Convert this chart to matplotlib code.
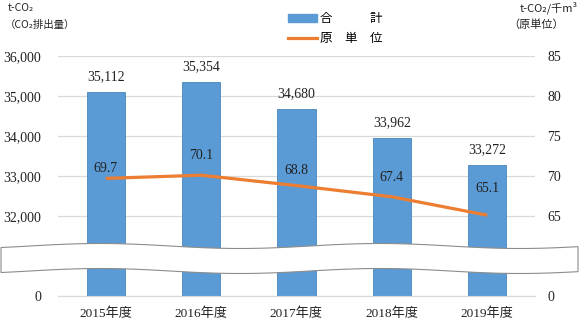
import numpy as np
import matplotlib
matplotlib.use("Agg")
from matplotlib import pyplot as plt
from matplotlib.patches import Polygon, Patch
from matplotlib.lines import Line2D

years = ["2015年度", "2016年度", "2017年度", "2018年度", "2019年度"]
emissions = [35112, 35354, 34680, 33962, 33272]      # t-CO2
intensity = [69.7, 70.1, 68.8, 67.4, 65.1]           # t-CO2/千m3

left_ticks = [0, 32000, 33000, 34000, 35000, 36000]
right_ticks = [0, 65, 70, 75, 80, 85]

BLUE = "#5B9BD5"
ORANGE = "#ED7D31"
GRID = "#d9d9d9"

SERIF = ["Liberation Serif", "Noto Sans CJK JP"]
CJK = ["Noto Sans CJK JP", "DejaVu Sans"]

W, H = 580, 322


def broken_scale(lo_break, top):
    # 0..lo_break squeezed into 2 units, lo_break..top spread over 4 units
    xp = [0, lo_break, top]
    fp = [0, 2, 6]
    fwd = lambda v: np.interp(v, xp, fp)
    inv = lambda p: np.interp(p, fp, xp)
    return fwd, inv


fig = plt.figure(figsize=(W / 100, H / 100), dpi=100)
ax = fig.add_axes([58 / W, 1 - 296 / H, (535 - 58) / W, 240 / H])
ax2 = ax.twinx()

ax.set_yscale("function", functions=broken_scale(32000, 36000))
ax2.set_yscale("function", functions=broken_scale(65, 85))
ax.set_ylim(0, 36000)
ax2.set_ylim(0, 85)

x = np.arange(len(years))
ax.bar(x, emissions, width=0.4, color=BLUE, edgecolor="#4a86bf", linewidth=0.6, zorder=3)
ax.set_xlim(-0.5, len(years) - 0.5)

for xi, v in zip(x, emissions):
    ax.annotate(f"{v:,}", (xi, v), xytext=(0, 11), textcoords="offset points",
                ha="center", va="center", fontsize=10, family=SERIF, color="#222222")

ax2.plot(x, intensity, color=ORANGE, linewidth=2.3, solid_capstyle="butt", zorder=4)
label_off = [7, 14, 11, 14, 19]
for xi, v, off in zip(x, intensity, label_off):
    ax2.annotate(f"{v}", (xi, v), xytext=(0, off), textcoords="offset points",
                 ha="center", va="center", fontsize=10, family=SERIF, color="#222222")

ax.set_yticks(left_ticks)
ax.set_yticklabels([f"{t:,}" for t in left_ticks], family=SERIF, fontsize=10)
ax2.set_yticks(right_ticks)
ax2.set_yticklabels([str(t) for t in right_ticks], family=SERIF, fontsize=10)
ax.set_xticks(x)
ax.set_xticklabels(years, family=SERIF, fontsize=9.5)

ax.grid(axis="y", color=GRID, linewidth=0.9, zorder=0)
ax.set_axisbelow(True)
ax.tick_params(axis="y", length=0, pad=12, colors="#222222")
ax.tick_params(axis="x", length=0, pad=8, colors="#222222")
ax2.tick_params(axis="y", length=0, pad=9, colors="#222222")
for a in (ax, ax2):
    for s in ("left", "right", "top"):
        a.spines[s].set_visible(False)
    a.spines["bottom"].set_color(GRID)

# wavy break band across the whole figure
xs = np.linspace(1, 578, 120)
upper = 246 - 2.5 * np.cos(2 * np.pi * (xs - 100) / 280)
lower = upper + 25
pts = np.concatenate([np.column_stack([xs, upper]), np.column_stack([xs[::-1], lower[::-1]])])
pts = np.column_stack([pts[:, 0] / W, 1 - pts[:, 1] / H])
band = Polygon(pts, closed=True, facecolor="white", edgecolor="#8c8c8c",
               linewidth=0.8, transform=fig.transFigure, clip_on=False, zorder=10)
ax2.add_patch(band)

# axis captions
fig.text(8 / W, 1 - 8 / H, "t-CO₂", fontsize=7.5, family=CJK, va="center", ha="left", color="#222222")
fig.text(5 / W, 1 - 25 / H, "（CO₂排出量）", fontsize=7.5, family=CJK, va="center", ha="left", color="#222222")
fig.text(578 / W, 1 - 8 / H, "t-CO₂/千m³", fontsize=8, family=CJK, va="center", ha="right", color="#222222")
fig.text(508 / W, 1 - 25 / H, "（原単位）", fontsize=8, family=CJK, va="center", ha="left", color="#222222")

handles = [Patch(facecolor=BLUE, edgecolor=BLUE), Line2D([], [], color=ORANGE, linewidth=2.3)]
leg = fig.legend(handles, ["合　　　計", "原　単　位"], loc="upper left",
                 bbox_to_anchor=(288 / W, 1 - 12 / H), frameon=False,
                 prop={"family": CJK, "size": 9}, handlelength=2.3, handleheight=0.6,
                 handletextpad=0.3, labelspacing=0.55, borderaxespad=0, borderpad=0)

fig.savefig("out.png", dpi=100, facecolor="white")
